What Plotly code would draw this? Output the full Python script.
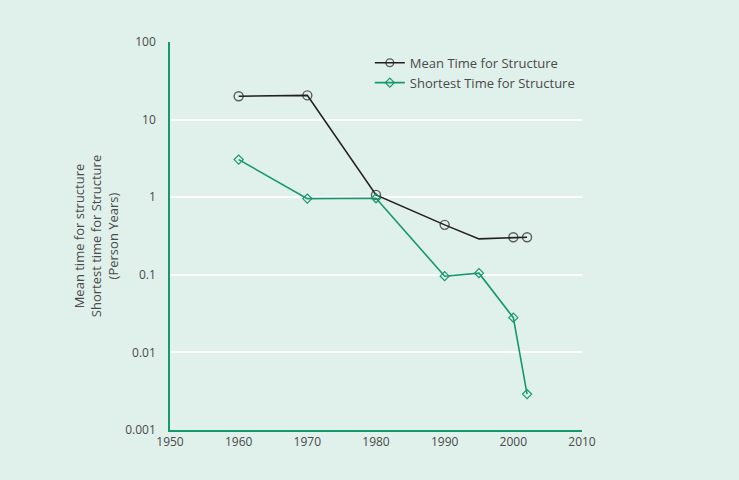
import plotly.graph_objects as go

years_mean = [1960, 1970, 1980, 1990, 1995, 2000, 2002]
mean_time = [20, 20.5, 1.07, 0.44, 0.29, 0.305, 0.305]
mean_marker_size = [9, 9, 9, 9, 0, 9, 9]

years_short = [1960, 1970, 1980, 1990, 1995, 2000, 2002]
shortest_time = [3.05, 0.96, 0.97, 0.096, 0.105, 0.028, 0.0029]

y_tickvals = [0.001, 0.01, 0.1, 1, 10, 100]
y_ticktext = ["0.001", "0.01", "0.1", "1", "10", "100"]
x_tickvals = [1950, 1960, 1970, 1980, 1990, 2000, 2010]

PANEL = "#e0f0ea"
GREEN = "#15996a"
BLACK = "#231f20"
TEXT = "#4a4a4a"

fig = go.Figure()
fig.add_trace(go.Scatter(
    x=years_mean, y=mean_time, mode="lines+markers",
    name="Mean Time for Structure",
    line=dict(color=BLACK, width=1.6),
    marker=dict(symbol="circle-open", size=mean_marker_size, color=BLACK,
                line=dict(width=1.4, color=BLACK)),
))
fig.add_trace(go.Scatter(
    x=years_short, y=shortest_time, mode="lines+markers",
    name="Shortest Time for Structure",
    line=dict(color=GREEN, width=1.6),
    marker=dict(symbol="diamond-open", size=7, color=GREEN,
                line=dict(width=1.2, color=GREEN)),
))

L, R, T, B = 170, 157, 42, 50

fig.update_layout(
    width=739, height=480,
    margin=dict(l=L, r=R, t=T, b=B, autoexpand=False),
    paper_bgcolor=PANEL, plot_bgcolor=PANEL,
    font=dict(family="Open Sans, Noto Sans, sans-serif", size=12, color=TEXT),
    showlegend=True,
    legend=dict(x=0.485, y=0.985, xanchor="left", yanchor="top",
                bgcolor="rgba(0,0,0,0)", font=dict(size=13, color=TEXT),
                tracegroupgap=0, itemwidth=30),
    xaxis=dict(range=[1950, 2010], tickvals=x_tickvals, showgrid=False,
               showline=True, linecolor=GREEN, linewidth=1.5, zeroline=False,
               automargin=False,
               ticks="", tickfont=dict(size=12, color=TEXT)),
    yaxis=dict(type="log", range=[-3, 2], tickvals=y_tickvals, ticktext=y_ticktext,
               showgrid=True, gridcolor="white", gridwidth=2,
               showline=True, linecolor=GREEN, linewidth=1.5, zeroline=False,
               automargin=False,
               ticks="", ticklabelstandoff=10, tickfont=dict(size=12, color=TEXT),
               title=dict(text="Mean time for structure<br>Shortest time for Structure<br>(Person Years)",
                          font=dict(size=13, color=TEXT), standoff=4)),
)

fig.write_html("out.html")
